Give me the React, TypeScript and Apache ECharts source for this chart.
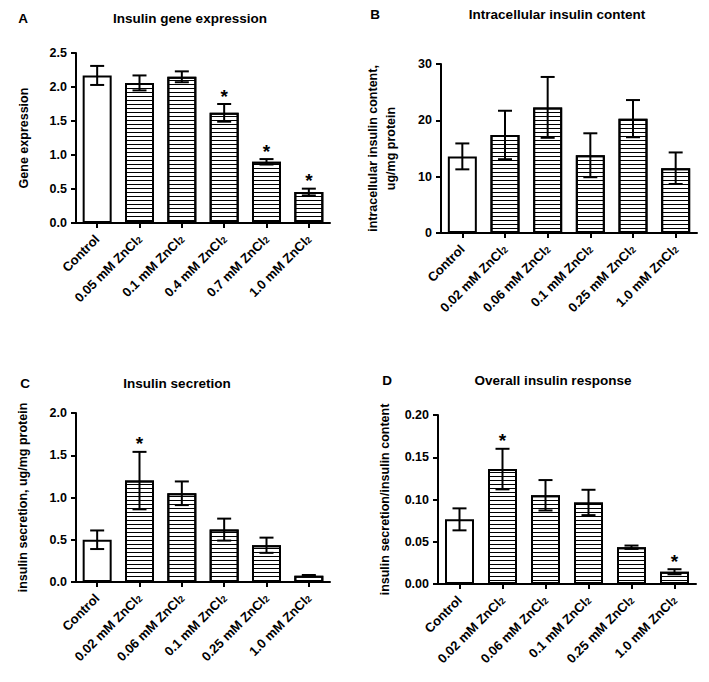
import React, { useEffect, useRef } from "react";
import * as echarts from "echarts";

const categoriesA = ["Control", "0.05 mM ZnCl2", "0.1 mM ZnCl2", "0.4 mM ZnCl2", "0.7 mM ZnCl2", "1.0 mM ZnCl2"];
const meansA = [2.17, 2.06, 2.15, 1.62, 0.9, 0.455];
const errorsA = [0.14, 0.11, 0.08, 0.13, 0.04, 0.05];
const starsA = [0, 0, 0, 1, 1, 1];

const categoriesB = ["Control", "0.02 mM ZnCl2", "0.06 mM ZnCl2", "0.1 mM ZnCl2", "0.25 mM ZnCl2", "1.0 mM ZnCl2"];
const meansB = [13.6, 17.4, 22.3, 13.8, 20.3, 11.5];
const errorsB = [2.3, 4.3, 5.4, 3.9, 3.3, 2.8];
const starsB = [0, 0, 0, 0, 0, 0];

const categoriesC = ["Control", "0.02 mM ZnCl2", "0.06 mM ZnCl2", "0.1 mM ZnCl2", "0.25 mM ZnCl2", "1.0 mM ZnCl2"];
const meansC = [0.5, 1.2, 1.05, 0.62, 0.435, 0.075];
const errorsC = [0.11, 0.34, 0.14, 0.13, 0.09, 0.008];
const starsC = [0, 1, 0, 0, 0, 0];

const categoriesD = ["Control", "0.02 mM ZnCl2", "0.06 mM ZnCl2", "0.1 mM ZnCl2", "0.25 mM ZnCl2", "1.0 mM ZnCl2"];
const meansD = [0.0765, 0.136, 0.105, 0.0965, 0.0435, 0.0145];
const errorsD = [0.013, 0.024, 0.018, 0.015, 0.002, 0.003];
const starsD = [0, 1, 0, 0, 0, 1];

const FONT = "'Liberation Sans', Arial, sans-serif";

const panels = [
  { letter: "A", title: "Insulin gene expression", cats: categoriesA, means: meansA, errs: errorsA, stars: starsA,
    grid: { left: 76, top: 53, width: 254, height: 170 }, max: 2.5, interval: 0.5, dec: 1,
    yName: "Gene expression", nameGap: 43, letterPos: [23, 18], titlePos: [190, 18] },
  { letter: "B", title: "Intracellular insulin content", cats: categoriesB, means: meansB, errs: errorsB, stars: starsB,
    grid: { left: 441, top: 64, width: 256, height: 169 }, max: 30, interval: 10, dec: 0,
    yName: "intracellular insulin content,\nug/mg protein", nameGap: 41, letterPos: [375, 14], titlePos: [557, 14] },
  { letter: "C", title: "Insulin secretion", cats: categoriesC, means: meansC, errs: errorsC, stars: starsC,
    grid: { left: 76, top: 413, width: 254, height: 169 }, max: 2.0, interval: 0.5, dec: 1,
    yName: "insulin secretion, ug/mg protein", nameGap: 44, letterPos: [25, 383], titlePos: [177, 383] },
  { letter: "D", title: "Overall insulin response", cats: categoriesD, means: meansD, errs: errorsD, stars: starsD,
    grid: { left: 438, top: 415, width: 258, height: 169 }, max: 0.2, interval: 0.05, dec: 2,
    yName: "insulin secretion/insulin content", nameGap: 44, letterPos: [387, 380], titlePos: [553, 380] },
];

const hatch = {
  symbol: "rect",
  symbolSize: 1,
  dashArrayX: [1, 0],
  dashArrayY: [1, 3],
  rotation: 0,
  color: "#000",
};

function labelFormatter(v: string) {
  if (v.endsWith("ZnCl2")) return `{n|${v.slice(0, -1)}}{s|2}`;
  return `{n|${v}}`;
}

export default function App() {
  const ref = useRef<HTMLDivElement>(null);
  useEffect(() => {
    if (!ref.current) return;
    const chart = echarts.init(ref.current, undefined, { renderer: "svg" });
    const grids: any[] = [];
    const xAxes: any[] = [];
    const yAxes: any[] = [];
    const series: any[] = [];
    const graphics: any[] = [];
    panels.forEach((p, k) => {
      grids.push({ ...p.grid, containLabel: false });
      xAxes.push({
        type: "category",
        gridIndex: k,
        data: p.cats,
        axisLine: { show: true, lineStyle: { color: "#000", width: 2 } },
        axisTick: { show: true, alignWithLabel: true, length: 5, lineStyle: { color: "#000", width: 2 } },
        axisLabel: {
          interval: 0,
          rotate: 45,
          margin: 14,
          formatter: labelFormatter,
          rich: {
            n: { fontSize: 13, fontWeight: "bold", fontFamily: FONT, color: "#000" },
            s: { fontSize: 9, fontWeight: "bold", fontFamily: FONT, color: "#000", verticalAlign: "bottom" },
          },
        },
        splitLine: { show: false },
      });
      yAxes.push({
        type: "value",
        gridIndex: k,
        min: 0,
        max: p.max,
        interval: p.interval,
        axisLine: { show: true, lineStyle: { color: "#000", width: 2 } },
        axisTick: { show: true, length: 5, lineStyle: { color: "#000", width: 2 } },
        splitLine: { show: false },
        axisLabel: {
          color: "#000",
          fontSize: 12.5,
          fontWeight: "bold",
          fontFamily: FONT,
          margin: 9,
          formatter: (v: number) => v.toFixed(p.dec),
        },
        name: p.yName,
        nameLocation: "middle",
        nameRotate: 90,
        nameGap: p.nameGap,
        nameTextStyle: { color: "#000", fontSize: 12.5, fontWeight: "bold", fontFamily: FONT, lineHeight: 18 },
      });
      series.push({
        type: "bar",
        xAxisIndex: k,
        yAxisIndex: k,
        barWidth: 29,
        data: p.means.map((m, i) => ({
          value: m,
          itemStyle: i === 0
            ? { color: "#fff", borderColor: "#000", borderWidth: 2 }
            : { color: "#fff", borderColor: "#000", borderWidth: 2, decal: hatch },
        })),
        z: 2,
      });
      series.push({
        type: "custom",
        xAxisIndex: k,
        yAxisIndex: k,
        z: 5,
        clip: false,
        data: p.means.map((m, i) => [i, m, p.errs[i], p.stars[i]]),
        encode: { x: 0, y: 1 },
        renderItem: (params: any, api: any) => {
          const i = api.value(0);
          const m = api.value(1);
          const e = api.value(2);
          const s = api.value(3);
          const top = api.coord([i, m + e]);
          const bot = api.coord([i, Math.max(0, m - e)]);
          const x = top[0];
          const cw = 7;
          const st = { stroke: "#000", lineWidth: 2 };
          const children: any[] = [
            { type: "line", shape: { x1: x, y1: top[1], x2: x, y2: bot[1] }, style: st },
            { type: "line", shape: { x1: x - cw, y1: top[1], x2: x + cw, y2: top[1] }, style: st },
            { type: "line", shape: { x1: x - cw, y1: bot[1], x2: x + cw, y2: bot[1] }, style: st },
          ];
          if (s) {
            children.push({
              type: "text",
              x: x,
              y: top[1] - 8,
              style: {
                text: "*",
                textAlign: "center",
                textVerticalAlign: "middle",
                font: `bold 19px ${FONT}`,
                fill: "#000",
              },
            });
          }
          return { type: "group", children };
        },
      });
      graphics.push({
        type: "text",
        x: p.letterPos[0],
        y: p.letterPos[1],
        style: { text: p.letter, textAlign: "center", textVerticalAlign: "middle", font: `bold 13.5px ${FONT}`, fill: "#000" },
      });
      graphics.push({
        type: "text",
        x: p.titlePos[0],
        y: p.titlePos[1],
        style: { text: p.title, textAlign: "center", textVerticalAlign: "middle", font: `bold 13.5px ${FONT}`, fill: "#000" },
      });
    });
    chart.setOption({
      animation: false,
      backgroundColor: "#fff",
      grid: grids,
      xAxis: xAxes,
      yAxis: yAxes,
      series,
      graphic: graphics,
    });
    return () => chart.dispose();
  }, []);
  return <div ref={ref} style={{ position: "fixed", left: 0, top: 0, width: 709, height: 682 }} />;
}
